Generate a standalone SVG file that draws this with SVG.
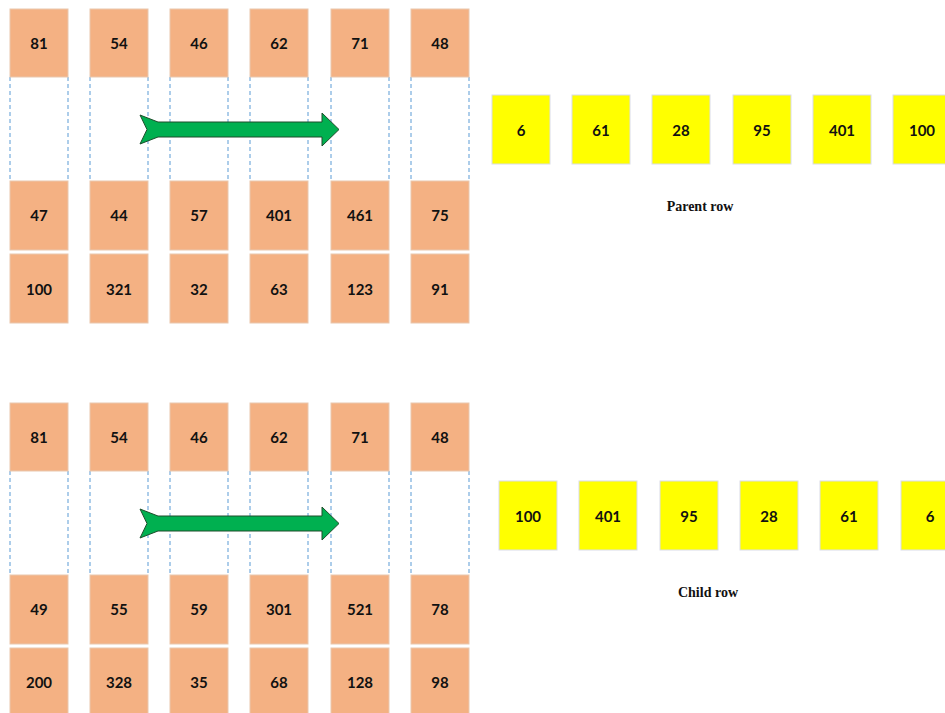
<svg xmlns="http://www.w3.org/2000/svg" width="945" height="713" viewBox="0 0 945 713">
<style>
.o{fill:#F4B183;stroke:#E9C7AE;stroke-width:1}
.y{fill:#FFFF00;stroke:#D9DCE8;stroke-width:1}
.d{stroke:#5B9BD5;stroke-width:1;stroke-dasharray:4 3;fill:none}
.n{font-family:Lato,"Liberation Sans",sans-serif;font-weight:bold;font-size:15px;fill:#111;text-anchor:middle;dominant-baseline:central}
.l{font-family:"Liberation Serif",serif;font-weight:bold;font-size:14px;fill:#111;text-anchor:middle}
.a{fill:#00B050;stroke:#1E4D2B;stroke-width:1}
</style>
<defs>
<g id="dash"><line class="d" x1="0" y1="0" x2="0" y2="104"/><line class="d" x1="58" y1="0" x2="58" y2="104"/></g>
</defs>
<rect width="945" height="713" fill="#fff"/>
<g id="connectors">
<g transform="translate(0,77)">
<use href="#dash" x="10"/><use href="#dash" x="90"/><use href="#dash" x="170"/><use href="#dash" x="250"/><use href="#dash" x="331"/><use href="#dash" x="411"/>
</g>
<g transform="translate(0,471)">
<use href="#dash" x="10"/><use href="#dash" x="90"/><use href="#dash" x="170"/><use href="#dash" x="250"/><use href="#dash" x="331"/><use href="#dash" x="411"/>
</g>
<path class="a" d="M140,115 L158,122 L322,122 L322,113 L339,129.5 L322,146 L322,137 L158,137 L140,144 L147,129.5 Z"/>
<path class="a" d="M140,509 L158,516 L322,516 L322,507 L339,523.5 L322,540 L322,531 L158,531 L140,538 L147,523.5 Z"/>
</g>
<g id="top-grid">
<g id="t1"><rect class="o" x="10" y="9" width="58" height="68"/><text class="n" x="39" y="43">81</text></g>
<g id="t2"><rect class="o" x="90" y="9" width="58" height="68"/><text class="n" x="119" y="43">54</text></g>
<g id="t3"><rect class="o" x="170" y="9" width="58" height="68"/><text class="n" x="199" y="43">46</text></g>
<g id="t4"><rect class="o" x="250" y="9" width="58" height="68"/><text class="n" x="279" y="43">62</text></g>
<g id="t5"><rect class="o" x="331" y="9" width="58" height="68"/><text class="n" x="360" y="43">71</text></g>
<g id="t6"><rect class="o" x="411" y="9" width="58" height="68"/><text class="n" x="440" y="43">48</text></g>
<g id="t7"><rect class="o" x="10" y="181" width="58" height="69"/><text class="n" x="39" y="215">47</text></g>
<g id="t8"><rect class="o" x="90" y="181" width="58" height="69"/><text class="n" x="119" y="215">44</text></g>
<g id="t9"><rect class="o" x="170" y="181" width="58" height="69"/><text class="n" x="199" y="215">57</text></g>
<g id="t10"><rect class="o" x="250" y="181" width="58" height="69"/><text class="n" x="279" y="215">401</text></g>
<g id="t11"><rect class="o" x="331" y="181" width="58" height="69"/><text class="n" x="360" y="215">461</text></g>
<g id="t12"><rect class="o" x="411" y="181" width="58" height="69"/><text class="n" x="440" y="215">75</text></g>
<g id="t13"><rect class="o" x="10" y="254" width="58" height="69"/><text class="n" x="39" y="289">100</text></g>
<g id="t14"><rect class="o" x="90" y="254" width="58" height="69"/><text class="n" x="119" y="289">321</text></g>
<g id="t15"><rect class="o" x="170" y="254" width="58" height="69"/><text class="n" x="199" y="289">32</text></g>
<g id="t16"><rect class="o" x="250" y="254" width="58" height="69"/><text class="n" x="279" y="289">63</text></g>
<g id="t17"><rect class="o" x="331" y="254" width="58" height="69"/><text class="n" x="360" y="289">123</text></g>
<g id="t18"><rect class="o" x="411" y="254" width="58" height="69"/><text class="n" x="440" y="289">91</text></g>
</g>
<g id="bottom-grid">
<g id="b1"><rect class="o" x="10" y="403" width="58" height="68"/><text class="n" x="39" y="437">81</text></g>
<g id="b2"><rect class="o" x="90" y="403" width="58" height="68"/><text class="n" x="119" y="437">54</text></g>
<g id="b3"><rect class="o" x="170" y="403" width="58" height="68"/><text class="n" x="199" y="437">46</text></g>
<g id="b4"><rect class="o" x="250" y="403" width="58" height="68"/><text class="n" x="279" y="437">62</text></g>
<g id="b5"><rect class="o" x="331" y="403" width="58" height="68"/><text class="n" x="360" y="437">71</text></g>
<g id="b6"><rect class="o" x="411" y="403" width="58" height="68"/><text class="n" x="440" y="437">48</text></g>
<g id="b7"><rect class="o" x="10" y="575" width="58" height="69"/><text class="n" x="39" y="609">49</text></g>
<g id="b8"><rect class="o" x="90" y="575" width="58" height="69"/><text class="n" x="119" y="609">55</text></g>
<g id="b9"><rect class="o" x="170" y="575" width="58" height="69"/><text class="n" x="199" y="609">59</text></g>
<g id="b10"><rect class="o" x="250" y="575" width="58" height="69"/><text class="n" x="279" y="609">301</text></g>
<g id="b11"><rect class="o" x="331" y="575" width="58" height="69"/><text class="n" x="360" y="609">521</text></g>
<g id="b12"><rect class="o" x="411" y="575" width="58" height="69"/><text class="n" x="440" y="609">78</text></g>
<g id="b13"><rect class="o" x="10" y="648" width="58" height="69"/><text class="n" x="39" y="682">200</text></g>
<g id="b14"><rect class="o" x="90" y="648" width="58" height="69"/><text class="n" x="119" y="682">328</text></g>
<g id="b15"><rect class="o" x="170" y="648" width="58" height="69"/><text class="n" x="199" y="682">35</text></g>
<g id="b16"><rect class="o" x="250" y="648" width="58" height="69"/><text class="n" x="279" y="682">68</text></g>
<g id="b17"><rect class="o" x="331" y="648" width="58" height="69"/><text class="n" x="360" y="682">128</text></g>
<g id="b18"><rect class="o" x="411" y="648" width="58" height="69"/><text class="n" x="440" y="682">98</text></g>
</g>
<g id="parent-row">
<g id="p1"><rect class="y" x="492" y="95" width="58" height="69"/><text class="n" x="521" y="130">6</text></g>
<g id="p2"><rect class="y" x="572" y="95" width="58" height="69"/><text class="n" x="601" y="130">61</text></g>
<g id="p3"><rect class="y" x="652" y="95" width="58" height="69"/><text class="n" x="681" y="130">28</text></g>
<g id="p4"><rect class="y" x="733" y="95" width="58" height="69"/><text class="n" x="762" y="130">95</text></g>
<g id="p5"><rect class="y" x="813" y="95" width="58" height="69"/><text class="n" x="842" y="130">401</text></g>
<g id="p6"><rect class="y" x="893" y="95" width="58" height="69"/><text class="n" x="922" y="130">100</text></g>
<text class="l" x="700" y="211">Parent row</text>
</g>
<g id="child-row">
<g id="c1"><rect class="y" x="499" y="481" width="58" height="69"/><text class="n" x="528" y="516">100</text></g>
<g id="c2"><rect class="y" x="579" y="481" width="58" height="69"/><text class="n" x="608" y="516">401</text></g>
<g id="c3"><rect class="y" x="660" y="481" width="58" height="69"/><text class="n" x="689" y="516">95</text></g>
<g id="c4"><rect class="y" x="740" y="481" width="58" height="69"/><text class="n" x="769" y="516">28</text></g>
<g id="c5"><rect class="y" x="820" y="481" width="58" height="69"/><text class="n" x="849" y="516">61</text></g>
<g id="c6"><rect class="y" x="901" y="481" width="58" height="69"/><text class="n" x="930" y="516">6</text></g>
<text class="l" x="708" y="597">Child row</text>
</g>
</svg>
